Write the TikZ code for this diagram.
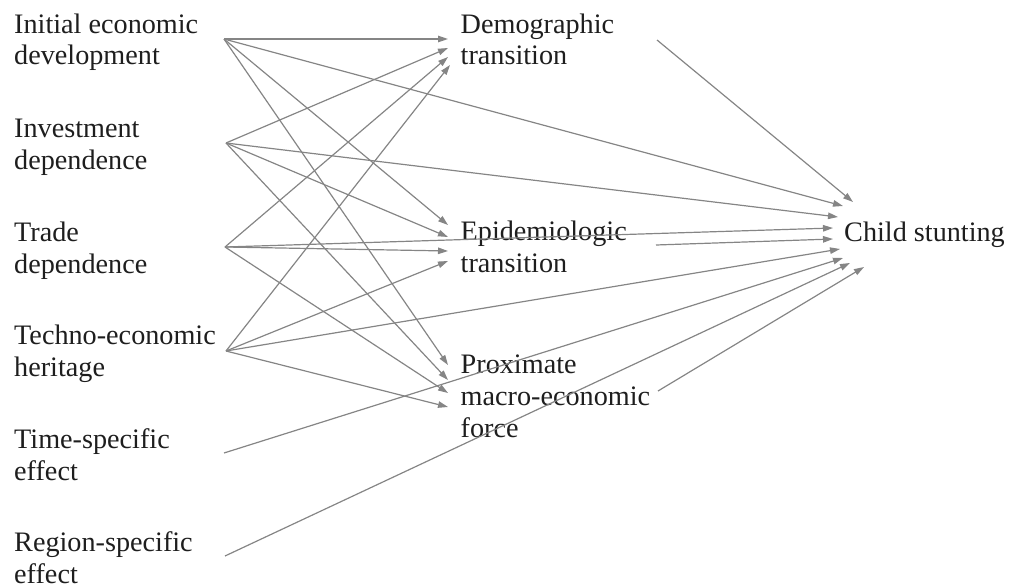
\documentclass[tikz,border=0pt]{standalone}
\usepackage{fontspec}
\setmainfont{Liberation Serif}
\usetikzlibrary{arrows.meta}
\definecolor{linegray}{HTML}{858585}
\definecolor{txt}{HTML}{1E1E1E}
\begin{document}
\begin{tikzpicture}[x=1pt,y=-1pt,
  lbl/.style={anchor=base west,inner sep=0pt,align=left,text=txt,font=\fontsize{28.2}{32}\selectfont},
  conn/.style={draw=linegray,line width=1.2pt,-{Triangle[length=10pt,width=6.5pt]}}]
\useasboundingbox (0,0) rectangle (1010,586);
% nodes (anchor = baseline of last line)
\node[lbl] (init) at (14,65) {Initial economic\\development};
\node[lbl] (inv) at (14,169) {Investment\\dependence};
\node[lbl] (trade) at (14,273) {Trade\\dependence};
\node[lbl] (techno) at (14,376) {Techno-economic\\heritage};
\node[lbl] (time) at (14,480) {Time-specific\\effect};
\node[lbl] (region) at (14,583) {Region-specific\\effect};
\node[lbl] (demo) at (460.5,65) {Demographic\\transition};
\node[lbl] (epi) at (460.5,272) {Epidemiologic\\transition};
\node[lbl] (prox) at (460.5,437) {Proximate\\macro-economic\\force};
\node[lbl] (child) at (844,241) {Child stunting};
% ports
\coordinate (initO) at (224,39);
\coordinate (invO) at (226,143);
\coordinate (tradeO) at (225,247);
\coordinate (technoO) at (226,351);
\coordinate (timeO) at (224,453);
\coordinate (regionO) at (225,556);
\coordinate (demoO) at (657,40);
\coordinate (epiO) at (656,245);
\coordinate (proxO) at (658,391);
\coordinate (demo1) at (448,39);
\coordinate (demo2) at (448,48);
\coordinate (demo3) at (448,57);
\coordinate (demo4) at (450,65);
\coordinate (epi1) at (448,225);
\coordinate (epi2) at (448,237);
\coordinate (epi3) at (448,251);
\coordinate (epi4) at (448,261);
\coordinate (prox1) at (448,365);
\coordinate (prox2) at (448,380);
\coordinate (prox3) at (448,393);
\coordinate (prox4) at (448,407);
\coordinate (ch1) at (853,202);
\coordinate (ch2) at (843,206);
\coordinate (ch3) at (838,217);
\coordinate (ch4) at (833,228);
\coordinate (ch5) at (833,239);
\coordinate (ch6) at (840,249);
\coordinate (ch7) at (843,258);
\coordinate (ch8) at (850,263);
\coordinate (ch9) at (864,267);
% connectors
\draw[conn] (initO) -- (demo1);
\draw[conn] (initO) -- (ch2);
\draw[conn] (initO) -- (epi1);
\draw[conn] (initO) -- (prox1);
\draw[conn] (invO) -- (demo2);
\draw[conn] (invO) -- (ch3);
\draw[conn] (invO) -- (epi2);
\draw[conn] (invO) -- (prox2);
\draw[conn] (tradeO) -- (demo3);
\draw[conn] (tradeO) -- (ch4);
\draw[conn] (tradeO) -- (epi3);
\draw[conn] (tradeO) -- (prox3);
\draw[conn] (technoO) -- (demo4);
\draw[conn] (technoO) -- (ch6);
\draw[conn] (technoO) -- (epi4);
\draw[conn] (technoO) -- (prox4);
\draw[conn] (timeO) -- (ch7);
\draw[conn] (regionO) -- (ch8);
\draw[conn] (demoO) -- (ch1);
\draw[conn] (epiO) -- (ch5);
\draw[conn] (proxO) -- (ch9);
\end{tikzpicture}
\end{document}
